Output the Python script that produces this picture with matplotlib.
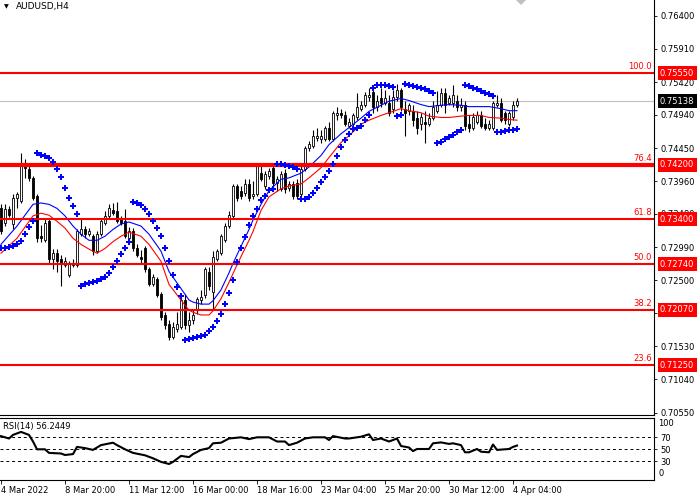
import matplotlib
matplotlib.use("Agg")
import matplotlib.pyplot as plt
import matplotlib.transforms as mtransforms
import numpy as np

plt.rcParams['font.family'] = ['DejaVu Sans']
plt.rcParams['font.size'] = 6

# AUDUSD H4 bars, 4 Mar 2022 00:00 .. 4 Apr 2022 08:00
opens = [0.7356, 0.7334, 0.7355, 0.7333, 0.7371, 0.7367, 0.7423, 0.7414, 0.7401, 0.7374,
         0.7315, 0.7310, 0.7337, 0.7281, 0.7290, 0.7281, 0.7273, 0.7258, 0.7275, 0.7273,
         0.7319, 0.7325, 0.7319, 0.7316, 0.7293, 0.7319, 0.7334, 0.7345, 0.7353, 0.7352,
         0.7340, 0.7337, 0.7312, 0.7322, 0.7297, 0.7285, 0.7297, 0.7267, 0.7244, 0.7252,
         0.7230, 0.7199, 0.7186, 0.7166, 0.7178, 0.7181, 0.7221, 0.7184, 0.7192, 0.7208,
         0.7221, 0.7229, 0.7263, 0.7233, 0.7282, 0.7290, 0.7310, 0.7330, 0.7345, 0.7389,
         0.7382, 0.7379, 0.7392, 0.7374, 0.7377, 0.7408, 0.7389, 0.7404, 0.7416, 0.7394,
         0.7385, 0.7408, 0.7386, 0.7392, 0.7394, 0.7377, 0.7414, 0.7445, 0.7448, 0.7460,
         0.7459, 0.7459, 0.7475, 0.7459, 0.7493, 0.7496, 0.7493, 0.7478, 0.7481, 0.7490,
         0.7503, 0.7508, 0.7520, 0.7527, 0.7505, 0.7518, 0.7512, 0.7511, 0.7503, 0.7520,
         0.7530, 0.7503, 0.7500, 0.7500, 0.7489, 0.7481, 0.7483, 0.7481, 0.7489, 0.7500,
         0.7508, 0.7526, 0.7512, 0.7511, 0.7515, 0.7505, 0.7508, 0.7481, 0.7475, 0.7483,
         0.7493, 0.7481, 0.7475, 0.7475, 0.7509, 0.7512, 0.7496, 0.7481, 0.7490, 0.7509]
highs = [0.7362, 0.7362, 0.7359, 0.7377, 0.7380, 0.7438, 0.7429, 0.7419, 0.7404, 0.7377,
         0.7331, 0.7342, 0.7342, 0.7296, 0.7296, 0.7288, 0.7285, 0.7278, 0.7281, 0.7325,
         0.7340, 0.7330, 0.7327, 0.7319, 0.7322, 0.7342, 0.7352, 0.7362, 0.7364, 0.7365,
         0.7345, 0.7355, 0.7328, 0.7327, 0.7303, 0.7294, 0.7301, 0.7270, 0.7260, 0.7255,
         0.7233, 0.7203, 0.7192, 0.7189, 0.7203, 0.7224, 0.7230, 0.7203, 0.7206, 0.7226,
         0.7236, 0.7270, 0.7270, 0.7293, 0.7296, 0.7319, 0.7334, 0.7352, 0.7392, 0.7392,
         0.7389, 0.7399, 0.7399, 0.7397, 0.7422, 0.7419, 0.7411, 0.7416, 0.7419, 0.7404,
         0.7411, 0.7414, 0.7397, 0.7397, 0.7399, 0.7419, 0.7448, 0.7456, 0.7471, 0.7474,
         0.7471, 0.7478, 0.7483, 0.7500, 0.7505, 0.7503, 0.7500, 0.7489, 0.7497, 0.7526,
         0.7515, 0.7527, 0.7533, 0.7538, 0.7523, 0.7533, 0.7530, 0.7523, 0.7530, 0.7539,
         0.7533, 0.7515, 0.7512, 0.7508, 0.7500, 0.7497, 0.7500, 0.7497, 0.7515, 0.7529,
         0.7533, 0.7533, 0.7523, 0.7538, 0.7523, 0.7518, 0.7515, 0.7493, 0.7497, 0.7500,
         0.7500, 0.7489, 0.7486, 0.7515, 0.7523, 0.7518, 0.7500, 0.7500, 0.7515, 0.7518]
lows = [0.7318, 0.7330, 0.7343, 0.7325, 0.7356, 0.7364, 0.7401, 0.7397, 0.7368, 0.7307,
        0.7307, 0.7307, 0.7276, 0.7266, 0.7263, 0.7242, 0.7269, 0.7255, 0.7269, 0.7270,
        0.7315, 0.7313, 0.7315, 0.7288, 0.7290, 0.7316, 0.7331, 0.7342, 0.7346, 0.7334,
        0.7331, 0.7312, 0.7307, 0.7293, 0.7284, 0.7275, 0.7263, 0.7241, 0.7241, 0.7226,
        0.7192, 0.7178, 0.7162, 0.7163, 0.7174, 0.7178, 0.7178, 0.7174, 0.7186, 0.7200,
        0.7215, 0.7224, 0.7236, 0.7206, 0.7278, 0.7287, 0.7307, 0.7327, 0.7342, 0.7367,
        0.7370, 0.7374, 0.7367, 0.7370, 0.7374, 0.7397, 0.7385, 0.7399, 0.7389, 0.7382,
        0.7382, 0.7379, 0.7382, 0.7370, 0.7370, 0.7373, 0.7411, 0.7441, 0.7445, 0.7456,
        0.7453, 0.7456, 0.7456, 0.7456, 0.7486, 0.7489, 0.7477, 0.7474, 0.7477, 0.7486,
        0.7500, 0.7505, 0.7515, 0.7497, 0.7500, 0.7506, 0.7508, 0.7492, 0.7497, 0.7515,
        0.7500, 0.7463, 0.7493, 0.7478, 0.7466, 0.7471, 0.7453, 0.7477, 0.7486, 0.7497,
        0.7505, 0.7497, 0.7508, 0.7506, 0.7500, 0.7500, 0.7472, 0.7468, 0.7471, 0.7480,
        0.7475, 0.7471, 0.7471, 0.7471, 0.7505, 0.7483, 0.7481, 0.7478, 0.7486, 0.7506]
closes = [0.7322, 0.7355, 0.7347, 0.7371, 0.7377, 0.7423, 0.7416, 0.7401, 0.7371, 0.7312,
          0.7312, 0.7334, 0.7281, 0.7290, 0.7278, 0.7275, 0.7278, 0.7275, 0.7273, 0.7322,
          0.7325, 0.7318, 0.7322, 0.7293, 0.7318, 0.7337, 0.7345, 0.7356, 0.7349, 0.7337,
          0.7334, 0.7315, 0.7322, 0.7297, 0.7288, 0.7281, 0.7267, 0.7244, 0.7255, 0.7229,
          0.7196, 0.7184, 0.7166, 0.7181, 0.7186, 0.7221, 0.7184, 0.7192, 0.7199, 0.7223,
          0.7226, 0.7266, 0.7241, 0.7285, 0.7293, 0.7315, 0.7330, 0.7347, 0.7389, 0.7371,
          0.7374, 0.7392, 0.7371, 0.7377, 0.7419, 0.7399, 0.7407, 0.7411, 0.7394, 0.7399,
          0.7407, 0.7385, 0.7392, 0.7374, 0.7374, 0.7414, 0.7445, 0.7451, 0.7463, 0.7463,
          0.7463, 0.7475, 0.7459, 0.7496, 0.7496, 0.7493, 0.7481, 0.7483, 0.7493, 0.7505,
          0.7508, 0.7523, 0.7523, 0.7505, 0.7515, 0.7511, 0.7518, 0.7496, 0.7520, 0.7530,
          0.7505, 0.7497, 0.7508, 0.7486, 0.7474, 0.7490, 0.7481, 0.7489, 0.7505, 0.7508,
          0.7526, 0.7508, 0.7518, 0.7523, 0.7505, 0.7509, 0.7478, 0.7474, 0.7490, 0.7493,
          0.7478, 0.7475, 0.7481, 0.7511, 0.7512, 0.7486, 0.7486, 0.7496, 0.7508, 0.7514]
bars = np.arange(len(closes))

# the two moving averages, every few bars
ma_bars = [0, 4, 8, 10, 12, 14, 16, 18, 20, 22, 24, 26, 28, 30, 32, 35, 37, 40, 42, 45,
           47, 48, 50, 52, 53, 55, 57, 58, 60, 62, 63, 65, 67, 70, 72, 75, 77, 80, 82, 85,
           87, 90, 92, 95, 97, 100, 102, 105, 107, 110, 112, 115, 117, 120, 122, 125, 127, 129]
ma_blue = [0.7303, 0.7330, 0.7362, 0.7364, 0.7362, 0.7356, 0.7345, 0.7330, 0.7318, 0.7309,
           0.7309, 0.7315, 0.7325, 0.7333, 0.7336, 0.7330, 0.7318, 0.7293, 0.7263, 0.7238,
           0.7221, 0.7218, 0.7215, 0.7215, 0.7220, 0.7236, 0.7261, 0.7275, 0.7300, 0.7325,
           0.7339, 0.7362, 0.7382, 0.7399, 0.7401, 0.7408, 0.7417, 0.7434, 0.7450, 0.7466,
           0.7475, 0.7489, 0.7499, 0.7508, 0.7514, 0.7518, 0.7515, 0.7509, 0.7506, 0.7508,
           0.7509, 0.7508, 0.7506, 0.7506, 0.7506, 0.7503, 0.7500, 0.7500]
ma_red = [0.7290, 0.7312, 0.7345, 0.7349, 0.7346, 0.7337, 0.7327, 0.7312, 0.7303, 0.7296,
          0.7290, 0.7297, 0.7307, 0.7315, 0.7321, 0.7315, 0.7303, 0.7278, 0.7244, 0.7221,
          0.7206, 0.7203, 0.7199, 0.7199, 0.7205, 0.7223, 0.7247, 0.7260, 0.7285, 0.7309,
          0.7322, 0.7353, 0.7373, 0.7385, 0.7389, 0.7392, 0.7401, 0.7416, 0.7431, 0.7453,
          0.7463, 0.7480, 0.7486, 0.7493, 0.7497, 0.7503, 0.7500, 0.7497, 0.7492, 0.7490,
          0.7490, 0.7492, 0.7493, 0.7493, 0.7490, 0.7489, 0.7487, 0.7486]

# RSI(14)
rsi_bars = [0, 2, 3, 5, 7, 8, 9, 11, 12, 15, 16, 18, 19, 21, 23, 25, 28, 29, 31, 33,
            36, 38, 40, 42, 43, 45, 47, 48, 50, 52, 53, 55, 57, 60, 62, 64, 67, 69, 71, 72,
            74, 76, 78, 81, 82, 83, 86, 87, 90, 92, 93, 95, 97, 99, 100, 102, 103, 104, 107, 108,
            110, 112, 113, 115, 116, 117, 119, 120, 122, 123, 124, 127, 128, 129]
rsi_vals = [72, 68, 74, 79, 74, 63, 50, 50, 44, 43, 40.5, 42, 54, 52, 49, 57, 61, 57, 50, 44,
            40, 35, 29, 25.5, 29, 39, 37, 42, 49, 52, 60, 61, 68, 70, 67, 70, 70, 63, 63, 57,
            61, 68, 70, 70, 65.5, 72, 68, 68, 71, 75, 65.5, 68, 63, 68, 55.5, 53, 47, 50.5, 50.5, 60,
            61.5, 59, 60, 57, 45, 45, 50.5, 46, 45, 58, 49, 50.5, 54, 56.2449]

fib_levels = [0.7555, 0.7420, 0.7340, 0.7274, 0.7207, 0.7125]
fib_names = ['100.0', '76.4', '61.8', '50.0', '38.2', '23.6']
last_price = 0.75138
sar_start = 0.7297

price_ticks = [0.76400, 0.75910, 0.75420, 0.74940, 0.74450, 0.73960, 0.73480,
               0.72990, 0.72500, 0.72020, 0.71530, 0.71040, 0.70550]
date_ticks = [0, 16, 32, 48, 64, 80, 96, 112, 128]
date_labels = ['4 Mar 2022', '8 Mar 20:00', '11 Mar 12:00', '16 Mar 00:00', '18 Mar 16:00',
               '23 Mar 04:00', '25 Mar 20:00', '30 Mar 12:00', '4 Apr 04:00']


def parabolic_sar(high, low, start, step=0.02, max_step=0.2):
    sar = [start]
    up = True
    ep = high[0]
    af = step
    for i in range(1, len(high)):
        s = sar[-1] + af * (ep - sar[-1])
        prev = [j for j in (i - 1, i - 2) if j >= 0]
        if up:
            s = min([s] + [low[j] for j in prev])
            if low[i] < s:
                up, s, ep, af = False, ep, low[i], step
            elif high[i] > ep:
                ep, af = high[i], min(af + step, max_step)
        else:
            s = max([s] + [high[j] for j in prev])
            if high[i] > s:
                up, s, ep, af = True, ep, high[i], step
            elif low[i] < ep:
                ep, af = low[i], min(af + step, max_step)
        sar.append(s)
    return sar


sar = parabolic_sar(highs, lows, sar_start)

fig = plt.figure(figsize=(7, 5), dpi=100)
ax = fig.add_axes([0, 0.17, 654 / 700, 0.83])
ax_rsi = fig.add_axes([0, 0.04, 654 / 700, 0.124])

# candles
o = np.array(opens)
c = np.array(closes)
ax.vlines(bars, lows, highs, color='black', lw=0.8, zorder=2)
ax.bar(bars, np.abs(c - o), bottom=np.minimum(o, c), width=0.62,
       color=['white' if cc >= oo else 'black' for oo, cc in zip(o, c)],
       edgecolor='black', linewidth=0.6, zorder=3)

ax.plot(ma_bars, ma_blue, color='#0000FF', lw=0.8, zorder=4)
ax.plot(ma_bars, ma_red, color='#FF0000', lw=0.8, zorder=4)
ax.plot(bars, sar, ls='none', marker='P', ms=3.8, mew=0, color='#0000FF', zorder=6)

ax.axhline(last_price, color='#C0C0C0', lw=0.8, zorder=1)
for lvl, name in zip(fib_levels, fib_names):
    ax.axhline(lvl, color='#FF0000', lw=3.0 if name == '76.4' else 1.5, zorder=5)
    ax.annotate(name, xy=(1, lvl), xycoords=('axes fraction', 'data'),
                xytext=(-2, 2), textcoords='offset pixels', ha='right', va='bottom',
                color='#FF0000', fontsize=6)

ax.set_xlim(-0.25, 163.25)
ax.set_ylim(0.70516, 0.76631)
ax.set_xticks([])
ax.yaxis.tick_right()
ax.set_yticks(price_ticks)
ax.set_yticklabels([f'{t:.5f}' for t in price_ticks])
ax.tick_params(axis='y', length=2.2, width=0.6, pad=2.2, labelsize=6)
for side in ('top', 'left'):
    ax.spines[side].set_visible(False)
for side in ('right', 'bottom'):
    ax.spines[side].set_linewidth(0.8)

for lvl in fib_levels:
    ax.annotate(f'{lvl:.5f}', xy=(1, lvl), xycoords=('axes fraction', 'data'),
                xytext=(6, 0), textcoords='offset pixels', ha='left', va='center',
                color='white', fontsize=6, annotation_clip=False, zorder=10,
                bbox=dict(boxstyle='square,pad=0.3', fc='#FF0000', ec='none'))
ax.annotate(f'{last_price:.5f}', xy=(1, last_price), xycoords=('axes fraction', 'data'),
            xytext=(6, 0), textcoords='offset pixels', ha='left', va='center',
            color='white', fontsize=6, annotation_clip=False, zorder=10,
            bbox=dict(boxstyle='square,pad=0.3', fc='black', ec='none'))

# chart shift marker at the top
trans = mtransforms.blended_transform_factory(ax.transData, ax.transAxes)
ax.plot([130], [1.0], transform=trans, marker='D', ms=5, color='#C0C0C0', mew=0)

fig.text(4 / 700, 1 - 7 / 500, '\u25bc', fontsize=4.5, va='center', ha='left')
fig.text(16 / 700, 1 - 7 / 500, 'AUDUSD,H4', fontsize=6.5, va='center', ha='left')

# RSI panel
ax_rsi.plot(rsi_bars, rsi_vals, color='black', lw=1.5)
for lvl in (70, 50, 30):
    ax_rsi.axhline(lvl, color='black', lw=0.7, ls=(0, (3, 3)))
ax_rsi.set_xlim(-0.25, 163.25)
ax_rsi.set_ylim(-1.2, 102.2)
ax_rsi.yaxis.tick_right()
ax_rsi.set_yticks([70, 50, 30])
ax_rsi.tick_params(axis='y', length=2.2, width=0.6, pad=2.2, labelsize=6)
for val, dy in ((100, -4.5), (0, 6)):
    ax_rsi.annotate(str(val), xy=(1, val), xycoords=('axes fraction', 'data'),
                    xytext=(4.5, dy), textcoords='offset pixels', ha='left', va='center',
                    fontsize=6, annotation_clip=False)
ax_rsi.set_xticks(date_ticks)
ax_rsi.set_xticklabels(date_labels)
ax_rsi.tick_params(axis='x', length=3, width=0.6, pad=1.5, labelsize=6)
for lbl in ax_rsi.get_xticklabels():
    lbl.set_horizontalalignment('left')
ax_rsi.spines['left'].set_visible(False)
for side in ('top', 'right', 'bottom'):
    ax_rsi.spines[side].set_linewidth(0.8)
ax_rsi.annotate(f'RSI(14) {rsi_vals[-1]}', xy=(0, 1), xycoords='axes fraction',
                xytext=(3, -8), textcoords='offset pixels', ha='left', va='center',
                fontsize=6)

fig.savefig('out.png', dpi=100)
